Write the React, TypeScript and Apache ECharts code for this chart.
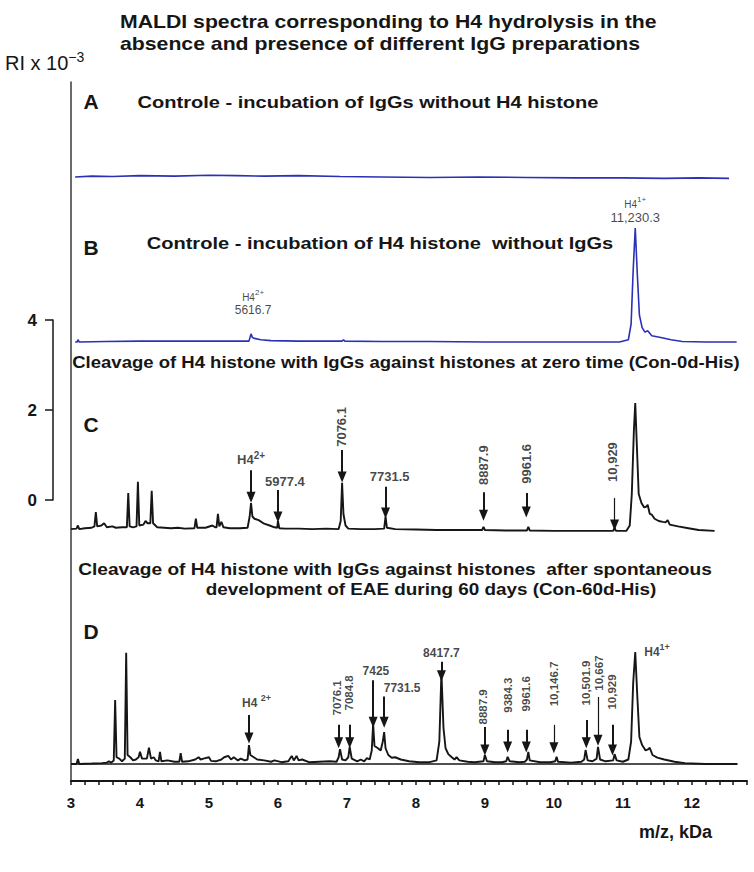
import React, { useEffect, useRef } from 'react';
import * as echarts from 'echarts';

// ---------- axis ----------
const X_MIN = 3;
const X_MAX = 12.8;
const xTickLabels = ['3', '4', '5', '6', '7', '8', '9', '10', '11', '12'];
const scaleBarTicks = ['0', '2', '4'];

// ---------- spectra: [m/z kDa, relative intensity] ----------
const specA: [number, number][] = [
  [3.06, 0], [3.3, 0.02], [3.6, 0.01], [4.0, 0.03], [4.5, 0.02], [5.0, 0.04], [5.4, 0.03],
  [5.8, 0.02], [6.3, 0.03], [6.9, 0.01], [7.5, 0.0], [8.2, -0.01], [8.9, 0.0], [9.6, -0.01],
  [10.3, -0.02], [11.0, -0.02], [11.6, -0.03], [12.1, -0.02], [12.54, -0.03],
];

const specB: [number, number][] = [
  [3.06, 0], [3.09, 0.0], [3.1, 0.05], [3.12, 0], [3.5, 0.01], [4.0, 0.02], [4.5, 0.02], [5.0, 0.02],
  [5.4, 0.02], [5.58, 0.02], [5.61, 0.18], [5.63, 0.1], [5.66, 0.08], [5.75, 0.05], [5.9, 0.03],
  [6.3, 0.02], [6.93, 0.02], [6.95, 0.05], [6.97, 0.02], [7.5, 0.01], [8.2, 0.01], [9.0, 0.0],
  [9.8, 0.0], [10.5, 0.0], [10.95, 0.0], [11.08, 0.05], [11.12, 0.4], [11.15, 1.6], [11.18, 2.53],
  [11.21, 1.5], [11.24, 0.6], [11.28, 0.32], [11.32, 0.22], [11.36, 0.25], [11.42, 0.14],
  [11.55, 0.1], [11.7, 0.05], [11.86, 0.01], [12.2, 0.0], [12.65, 0.0],
];

const specC: [number, number][] = [
  [3.0, 0.02], [3.08, 0.03], [3.1, 0.1], [3.12, 0.02], [3.2, 0.04], [3.3, 0.05], [3.34, 0.08],
  [3.36, 0.4], [3.38, 0.08], [3.44, 0.1], [3.48, 0.15], [3.52, 0.06], [3.6, 0.08], [3.65, 0.05],
  [3.74, 0.06], [3.81, 0.06], [3.83, 0.82], [3.85, 0.08], [3.9, 0.06], [3.95, 0.08], [3.97, 1.07],
  [3.99, 0.1], [4.05, 0.12], [4.08, 0.2], [4.11, 0.15], [4.15, 0.15], [4.17, 0.87], [4.19, 0.15],
  [4.25, 0.06], [4.35, 0.05], [4.45, 0.04], [4.55, 0.05], [4.65, 0.03], [4.79, 0.04], [4.81, 0.25],
  [4.83, 0.05], [4.95, 0.05], [5.05, 0.1], [5.09, 0.06], [5.11, 0.06], [5.13, 0.36], [5.15, 0.08],
  [5.18, 0.18], [5.21, 0.06], [5.3, 0.04], [5.45, 0.04], [5.56, 0.05], [5.59, 0.3], [5.61, 0.6],
  [5.63, 0.3], [5.66, 0.25], [5.72, 0.22], [5.8, 0.14], [5.88, 0.1], [5.95, 0.06], [5.99, 0.05],
  [6.0, 0.2], [6.02, 0.04], [6.1, 0.03], [6.3, 0.03], [6.5, 0.02], [6.7, 0.03], [6.88, 0.02],
  [6.91, 0.2], [6.93, 1.05], [6.95, 0.35], [6.98, 0.1], [7.02, 0.03], [7.2, 0.02], [7.4, 0.02],
  [7.54, 0.03], [7.56, 0.3], [7.58, 0.05], [7.7, 0.02], [8.0, 0.01], [8.3, 0.0], [8.6, 0.0],
  [8.96, 0.0], [8.98, 0.07], [9.0, 0.0], [9.3, -0.01], [9.61, -0.01], [9.63, 0.07], [9.65, -0.01],
  [10.0, -0.02], [10.4, -0.02], [10.86, -0.02], [10.88, 0.05], [10.9, -0.02], [11.05, -0.02],
  [11.1, 0.1], [11.13, 0.8], [11.16, 2.2], [11.18, 2.82], [11.2, 2.0], [11.23, 0.8], [11.27, 0.6],
  [11.31, 0.5], [11.34, 0.52], [11.36, 0.56], [11.39, 0.36], [11.42, 0.34], [11.46, 0.25],
  [11.52, 0.2], [11.58, 0.18], [11.62, 0.17], [11.65, 0.22], [11.68, 0.12], [11.8, 0.08],
  [11.95, 0.04], [12.1, 0.0], [12.33, -0.02],
];

const specD: [number, number][] = [
  [3.0, 0.0], [3.08, 0.0], [3.1, 0.11], [3.12, 0.0], [3.3, 0.01], [3.45, 0.02], [3.52, 0.03],
  [3.55, 0.06], [3.58, 0.03], [3.62, 0.08], [3.64, 1.42], [3.66, 0.15], [3.7, 0.12], [3.74, 0.06],
  [3.78, 0.12], [3.8, 2.47], [3.82, 0.2], [3.86, 0.15], [3.9, 0.08], [3.94, 0.1], [3.98, 0.15],
  [4.0, 0.27], [4.03, 0.12], [4.07, 0.12], [4.1, 0.12], [4.13, 0.36], [4.16, 0.12], [4.2, 0.15],
  [4.23, 0.08], [4.27, 0.06], [4.29, 0.27], [4.31, 0.06], [4.4, 0.08], [4.5, 0.05], [4.57, 0.05],
  [4.59, 0.24], [4.61, 0.05], [4.7, 0.06], [4.8, 0.1], [4.85, 0.15], [4.88, 0.1], [4.92, 0.12],
  [5.0, 0.15], [5.03, 0.07], [5.1, 0.06], [5.18, 0.1], [5.22, 0.15], [5.28, 0.18], [5.32, 0.1],
  [5.36, 0.15], [5.42, 0.08], [5.46, 0.12], [5.52, 0.08], [5.56, 0.1], [5.58, 0.42], [5.6, 0.2],
  [5.65, 0.15], [5.7, 0.1], [5.8, 0.08], [5.9, 0.05], [5.95, 0.08], [6.05, 0.04], [6.15, 0.06],
  [6.2, 0.18], [6.23, 0.08], [6.27, 0.18], [6.3, 0.08], [6.35, 0.1], [6.45, 0.04], [6.6, 0.05],
  [6.75, 0.06], [6.85, 0.05], [6.88, 0.15], [6.9, 0.33], [6.93, 0.1], [6.98, 0.08], [7.02, 0.15],
  [7.04, 0.38], [7.07, 0.12], [7.15, 0.06], [7.2, 0.1], [7.25, 0.06], [7.29, 0.13], [7.33, 0.1],
  [7.36, 0.3], [7.38, 0.89], [7.4, 0.4], [7.45, 0.35], [7.49, 0.3], [7.52, 0.5], [7.54, 0.71],
  [7.56, 0.35], [7.6, 0.2], [7.65, 0.14], [7.7, 0.15], [7.78, 0.1], [7.9, 0.06], [8.05, 0.04],
  [8.2, 0.04], [8.3, 0.08], [8.34, 0.5], [8.37, 2.04], [8.4, 0.8], [8.43, 0.35], [8.47, 0.22],
  [8.52, 0.15], [8.56, 0.1], [8.59, 0.15], [8.63, 0.08], [8.75, 0.05], [8.85, 0.04], [8.98, 0.06],
  [9.0, 0.2], [9.03, 0.06], [9.15, 0.04], [9.25, 0.04], [9.31, 0.06], [9.33, 0.16], [9.36, 0.06],
  [9.5, 0.04], [9.58, 0.05], [9.61, 0.1], [9.63, 0.27], [9.65, 0.08], [9.8, 0.04], [9.95, 0.04],
  [10.02, 0.06], [10.04, 0.16], [10.06, 0.05], [10.25, 0.03], [10.4, 0.05], [10.44, 0.1],
  [10.46, 0.31], [10.49, 0.08], [10.56, 0.06], [10.62, 0.12], [10.64, 0.38], [10.67, 0.1],
  [10.75, 0.06], [10.86, 0.08], [10.88, 0.22], [10.91, 0.08], [11.0, 0.05], [11.08, 0.1],
  [11.12, 0.5], [11.15, 1.8], [11.18, 2.49], [11.21, 1.5], [11.24, 0.6], [11.28, 0.42],
  [11.33, 0.3], [11.37, 0.33], [11.39, 0.36], [11.43, 0.2], [11.5, 0.14], [11.6, 0.1],
  [11.75, 0.05], [11.9, 0.02], [12.2, 0.0], [12.66, 0.0],
];
const baseD: [number, number][] = [[3.0, 0], [12.66, 0]];

// ---------- peak annotations ----------
const labelsB = ['H4{sup|1+}', '11,230.3', 'H4{sup|2+}', '5616.7'];
const labelsC = ['H4{sup|2+}', '5977.4', '7076.1', '7731.5', '8887.9', '9961.6', '10,929'];
const labelsD = ['H4 {sup|2+}', '7076.1', '7084.8', '7425', '7731.5', '8417.7', '8887.9', '9384.3',
  '9961.6', '10,146.7', '10,501.9', '10,667', '10,929', 'H4{sup|1+}'];

// label anchors [kDa, intensity, kind]  kind: 0 horizontal, 1 rotated, 2 left-anchored
const placeB: [number, number, number][] = [[11.18, 3.06, 0], [11.18, 2.76, 0], [5.64, 1.0, 0], [5.64, 0.71, 0]];
const placeC: [number, number, number][] = [
  [5.61, 1.56, 0], [6.1, 1.07, 0], [6.92, 2.29, 1], [7.62, 1.18, 0], [8.98, 1.44, 1], [9.6, 1.47, 1], [10.85, 1.51, 1],
];
const placeD: [number, number, number][] = [
  [5.69, 1.36, 0], [6.85, 1.47, 1], [7.03, 1.58, 1], [7.42, 2.06, 0], [7.8, 1.7, 0], [8.37, 2.47, 0],
  [8.97, 1.27, 1], [9.33, 1.53, 1], [9.6, 1.56, 1], [10.0, 1.78, 1], [10.47, 1.8, 1], [10.66, 2.02, 1],
  [10.85, 1.6, 1], [11.31, 2.49, 2],
];
// arrows [kDa, from, to, thin?]
const arrowsC: [number, number, number, number][] = [
  [5.61, 1.33, 0.73, 0], [6.0, 0.89, 0.29, 0], [6.93, 1.78, 1.18, 0], [7.56, 0.96, 0.38, 0],
  [8.98, 0.84, 0.33, 0], [9.6, 0.82, 0.4, 0], [10.88, 0.71, 0.11, 1],
];
const arrowsD: [number, number, number, number][] = [
  [5.58, 1.09, 0.58, 0], [6.88, 0.87, 0.47, 0], [7.04, 0.87, 0.47, 0], [7.38, 1.86, 0.93, 0],
  [7.54, 1.5, 0.93, 0], [8.37, 2.27, 1.96, 0], [9.0, 0.82, 0.31, 0], [9.33, 0.76, 0.38, 0],
  [9.6, 0.76, 0.38, 0], [10.0, 0.87, 0.36, 1], [10.47, 0.98, 0.47, 0], [10.64, 1.49, 0.53, 1],
  [10.85, 0.87, 0.31, 0],
];

const FONT = "'Liberation Sans', Arial, sans-serif";
const BLUE = '#2b31b5';
const INK = '#161616';
const STRETCH = 1.18;

// panel baselines (px) -> grid tops
const PX_PER_UNIT = 45;
const Y_MIN = -0.5;
const Y_MAX = 3.5;
const panelBase = [177, 342, 530, 764];

export default function App() {
  const ref = useRef<HTMLDivElement>(null);
  useEffect(() => {
    document.body.style.margin = '0';
    const chart = echarts.init(ref.current!, undefined, { renderer: 'svg' });
    const gridH = (Y_MAX - Y_MIN) * PX_PER_UNIT;
    const grids: any[] = [
      { left: 71, top: 82, width: 676, height: 699 },
      ...panelBase.map((b) => ({ left: 71, width: 676, top: b - Y_MAX * PX_PER_UNIT, height: gridH })),
      { left: 53, top: 320, width: 10, height: 180 },
    ];
    const xAxes: any[] = grids.map((g, i) => ({
      gridIndex: i, type: 'value', min: X_MIN, max: X_MAX, show: false,
    }));
    xAxes[0] = {
      gridIndex: 0, type: 'value', min: X_MIN, max: X_MAX, interval: 0.2,
      axisLine: { show: true, onZero: false, lineStyle: { color: INK, width: 2 } },
      axisTick: { show: true, length: 4, lineStyle: { color: INK, width: 1.5 } },
      splitLine: { show: false },
      axisLabel: {
        interval: 0, margin: 14, color: INK, fontFamily: FONT, fontWeight: 'bold', fontSize: 15,
        formatter: (v: number) => {
          const r = Math.round(v);
          return Math.abs(v - r) < 1e-6 && xTickLabels.includes(String(r)) ? String(r) : '';
        },
      },
    };
    const yAxes: any[] = grids.map((g, i) => ({
      gridIndex: i, type: 'value', min: Y_MIN, max: Y_MAX, show: false,
    }));
    yAxes[0] = {
      gridIndex: 0, type: 'value', min: 0, max: 1,
      axisLine: { show: true, lineStyle: { color: '#3a3a3a', width: 1.5 } },
      axisTick: { show: false }, axisLabel: { show: false }, splitLine: { show: false },
    };
    yAxes[5] = {
      gridIndex: 5, type: 'value', min: 0, max: 4, interval: 2,
      axisLine: { show: true, lineStyle: { color: INK, width: 1.5 } },
      axisTick: { show: true, length: 8, lineStyle: { color: INK, width: 1.5 } },
      splitLine: { show: false },
      axisLabel: {
        margin: 16, color: INK, fontFamily: FONT, fontWeight: 'bold', fontSize: 17,
        formatter: (v: number) => (scaleBarTicks.includes(String(v)) ? String(v) : ''),
      },
    };

    const lineSeries = (idx: number, data: [number, number][], color: string, width: number, extra: any = {}) => ({
      type: 'line', xAxisIndex: idx, yAxisIndex: idx, data, showSymbol: false, symbol: 'none',
      lineStyle: { color, width }, silent: true, ...extra,
    });
    const arrowMark = (arrows: [number, number, number, number][]) => ({
      silent: true, symbol: ['none', 'triangle'], symbolSize: [9, 11], label: { show: false },
      lineStyle: { color: INK, width: 2, type: 'solid' },
      itemStyle: { color: INK },
      data: arrows.map(([x, f, t, thin]) => [
        { coord: [x, f], lineStyle: { width: thin ? 1.2 : 2, color: INK, type: 'solid' } },
        { coord: [x, t] },
      ]),
    });
    const rich = (size: number, weight: string) => ({
      sup: { fontSize: Math.round(size * 0.75), verticalAlign: 'top', lineHeight: size + 6, fontFamily: FONT, fontWeight: weight, color: INK },
    });
    const labelSeries = (idx: number, texts: string[], places: [number, number, number][], size: number, rotSize: number, weight: string, sizes?: number[]) => ({
      type: 'scatter', xAxisIndex: idx, yAxisIndex: idx, symbolSize: 0, silent: true,
      label: { show: true, position: 'inside', color: INK, fontFamily: FONT, fontWeight: weight, fontSize: size, lineHeight: size + 6, rich: rich(size, weight) },
      data: places.map(([x, y, r], i) => ({
        value: [x, y],
        label: r === 1
          ? { formatter: texts[i], rotate: 90, fontSize: rotSize }
          : r === 2
            ? { formatter: texts[i], position: 'right', distance: 0 }
            : { formatter: texts[i], fontSize: sizes ? sizes[i] : size },
      })),
    });

    const series: any[] = [
      lineSeries(1, specA, BLUE, 1.6),
      lineSeries(2, specB, BLUE, 1.6),
      lineSeries(3, specC, INK, 1.9, { markLine: arrowMark(arrowsC) }),
      lineSeries(4, baseD, INK, 1.5),
      lineSeries(4, specD, INK, 1.9, { markLine: arrowMark(arrowsD) }),
      labelSeries(2, labelsB, placeB, 11, 11, 'normal', [10, 13, 10, 12]),
      labelSeries(3, labelsC, placeC, 13, 13, 'bold'),
      labelSeries(4, labelsD, placeD, 12, 11.5, 'bold'),
      { type: 'line', xAxisIndex: 5, yAxisIndex: 5, data: [], silent: true },
    ];

    const txt = (text: string, x: number, y: number, size: number, align = 'center', weight = 'bold', sx = STRETCH) => ({
      type: 'text', x, y, scaleX: sx, silent: true,
      style: { text, align, verticalAlign: 'middle', fill: INK, font: `${weight} ${size}px ${FONT}` },
    });

    chart.setOption({
      animation: false,
      backgroundColor: '#ffffff',
      grid: grids,
      xAxis: xAxes,
      yAxis: yAxes,
      series,
      graphic: [
        txt('MALDI spectra corresponding to H4 hydrolysis in the', 120, 22, 18, 'left'),
        txt('absence and presence of different IgG preparations', 120, 44, 18, 'left'),
        {
          type: 'text', x: 5, y: 63, silent: true,
          style: {
            text: 'RI x 10{sup|−3}', align: 'left', verticalAlign: 'middle', fill: INK,
            font: `normal 20px ${FONT}`,
            rich: { sup: { fontSize: 14, verticalAlign: 'top', lineHeight: 26, fill: INK, fontFamily: FONT } },
          },
        },
        txt('A', 91, 102, 20, 'center', 'bold', 1.05),
        txt('Controle - incubation of IgGs without H4 histone', 368, 102, 17),
        txt('B', 91, 248, 20, 'center', 'bold', 1.05),
        txt('Controle - incubation of H4 histone  without IgGs', 380, 243, 17),
        txt('Cleavage of H4 histone with IgGs against histones at zero time (Con-0d-His)', 406, 363, 15.7),
        txt('C', 91, 425, 20, 'center', 'bold', 1.05),
        txt('Cleavage of H4 histone with IgGs against histones  after spontaneous', 395, 570, 16.2),
        txt('development of EAE during 60 days (Con-60d-His)', 431, 590, 16),
        txt('D', 91, 632, 20, 'center', 'bold', 1.05),
        txt('m/z, kDa', 712, 832, 18, 'right', 'bold', 1),
      ],
    });
    return () => chart.dispose();
  }, []);
  return <div ref={ref} style={{ width: 754, height: 872 }} />;
}
